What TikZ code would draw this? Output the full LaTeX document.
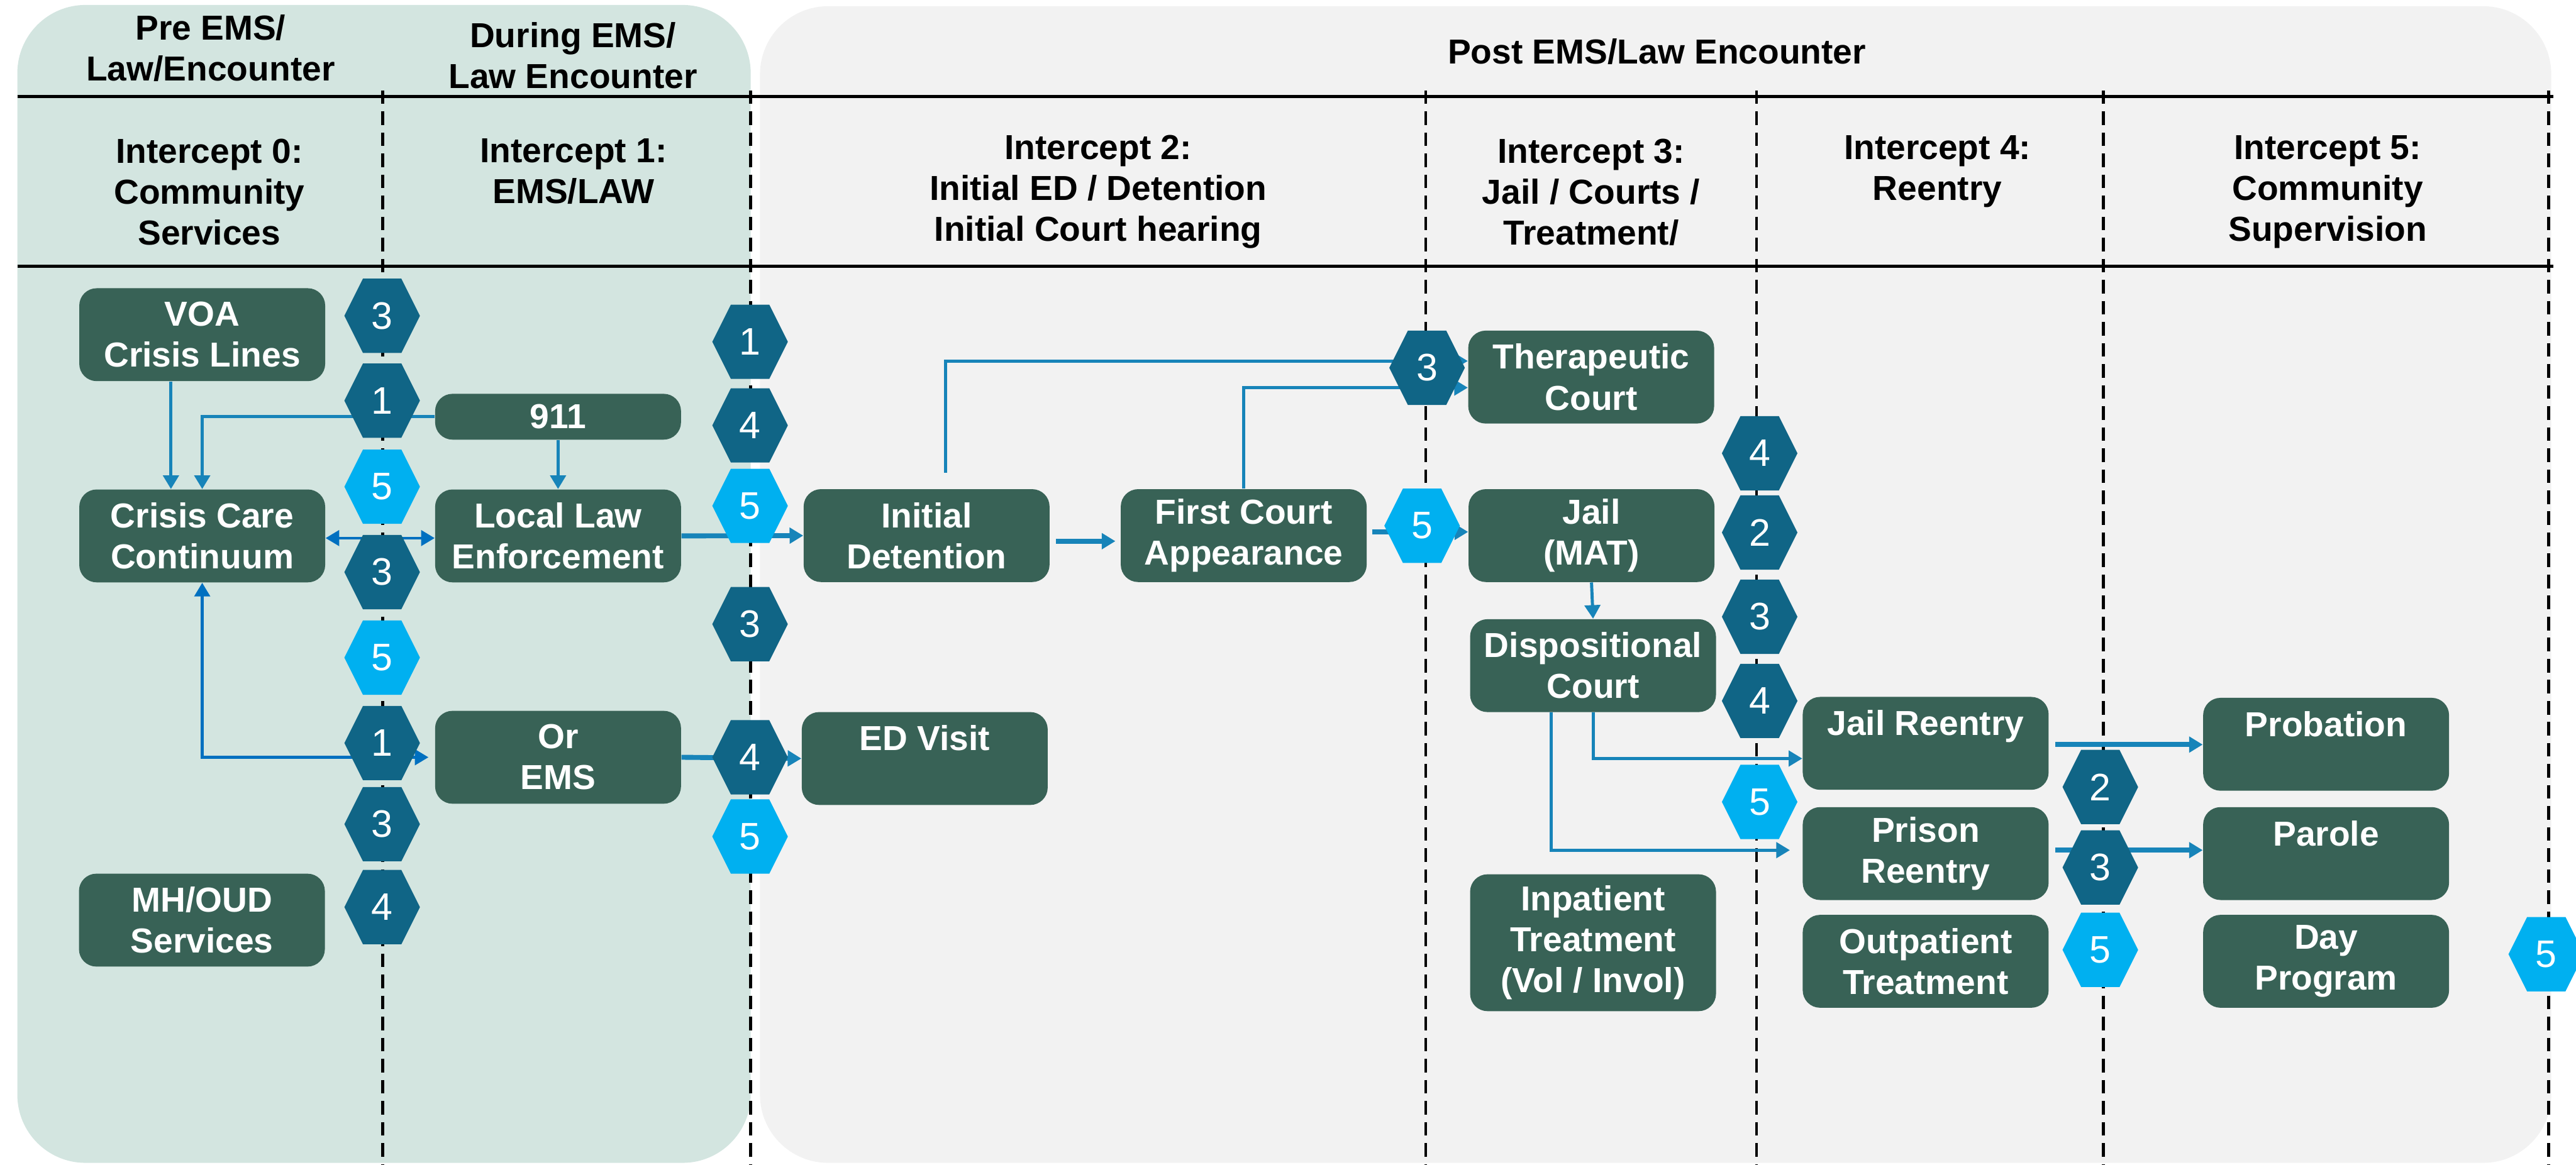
\documentclass[tikz,border=0pt]{standalone}
\usepackage{fontspec}
\setmainfont{Liberation Sans}
\usetikzlibrary{arrows.meta,calc}

\definecolor{panelteal}{HTML}{D3E5E0}
\definecolor{panelgray}{HTML}{F2F2F2}
\definecolor{stagegreen}{HTML}{386256}
\definecolor{markdark}{HTML}{106586}
\definecolor{marklight}{HTML}{00B0F0}
\definecolor{flowblue}{HTML}{1784B9}
\definecolor{deepblue}{HTML}{0070C0}

\newcommand{\stagefont}{\fontsize{15.93}{18.78}\selectfont\bfseries}
\newcommand{\markfont}{\fontsize{17.6}{18}\selectfont}

% hexagonal intercept marker: name, x, y, colour, digit
\newcommand{\interceptmark}[5]{%
  \fill[#4,shift={(#2,#3)}] (-0.61,0) -- (-0.31,0.60) -- (0.31,0.60) -- (0.61,0)
    -- (0.31,-0.60) -- (-0.31,-0.60) -- cycle;
  \node[marknum] (#1) at (#2,#3) {#5};
}

\tikzset{
  stagebox/.style={rectangle, rounded corners=0.28cm, fill=stagegreen, text=white,
    font=\stagefont, align=center, minimum width=3.97cm, minimum height=1.5cm, inner sep=0pt},
  bandtext/.style={font=\stagefont, align=center, text=black, inner sep=0pt},
  marknum/.style={text=white, font=\markfont, inner sep=0pt},
  flow/.style={draw=flowblue, line width=0.05cm, ->},
  mainflow/.style={flow, line width=0.08cm},
  twoway/.style={draw=deepblue, line width=0.045cm, <->},
  divider/.style={draw=black, line width=0.045cm, dash pattern=on 0.22cm off 0.12cm},
  bandrule/.style={draw=black, line width=0.045cm},
}

\begin{document}
\begin{tikzpicture}[>={Triangle[length=0.22cm,width=0.25cm]}]
\useasboundingbox (0,0) rectangle (41.59,-18.81);

% background panels
\fill[panelteal, rounded corners=1.1cm] (0.28,-0.08) rectangle (12.12,-18.78);
\fill[panelgray, rounded corners=1.1cm] (12.27,-0.10) rectangle (41.19,-18.78);

% header rules
\draw[bandrule] (0.28,-1.56) -- (41.22,-1.56);
\draw[bandrule] (0.28,-4.30) -- (41.22,-4.30);

% intercept dividers
\foreach \xx in {6.18,12.12,23.02,28.36,33.96,41.15}
  \draw[divider] (\xx,-1.46) -- (\xx,-18.81);

% headings
\node[bandtext] (pre) at (3.40,-0.78) {Pre EMS/\\Law/Encounter};
\node[bandtext] (during) at (9.25,-0.90) {During EMS/\\Law Encounter};
\node[bandtext] (post) at (26.75,-0.83) {Post EMS/Law Encounter};
\node[bandtext] (i0) at (3.38,-3.10) {Intercept 0:\\Community\\Services};
\node[bandtext] (i1) at (9.26,-2.77) {Intercept 1:\\EMS/LAW};
\node[bandtext] (i2) at (17.73,-3.10) {Intercept 2:\\Initial ED / Detention\\Initial Court hearing};
\node[bandtext] (i3) at (25.69,-3.10) {Intercept 3:\\Jail / Courts /\\Treatment/};
\node[bandtext] (i4) at (31.28,-2.77) {Intercept 4:\\Reentry};
\node[bandtext] (i5) at (37.58,-3.10) {Intercept 5:\\Community\\Supervision};

% service boxes
\node[stagebox] (voa) at (3.265,-5.405) {VOA\\Crisis Lines};
\node[stagebox] (crisis) at (3.265,-8.655) {Crisis Care\\Continuum};
\node[stagebox] (mhoud) at (3.26,-14.86) {MH/OUD\\Services};
\node[stagebox, minimum height=0.74cm] (call) at (9.01,-6.73) {911};
\node[stagebox] (law) at (9.01,-8.655) {Local Law\\Enforcement};
\node[stagebox] (ems) at (9.01,-12.23) {Or\\EMS};
\node[stagebox] (det) at (14.96,-8.65) {Initial\\Detention};
\node[stagebox] (edv) at (14.93,-12.25) {ED Visit\\~};
\node[stagebox] (fca) at (20.08,-8.65) {First Court\\Appearance};
\node[stagebox] (ther) at (25.69,-6.09) {Therapeutic\\Court};
\node[stagebox] (jail) at (25.695,-8.65) {Jail\\(MAT)};
\node[stagebox] (disp) at (25.72,-10.75) {Dispositional\\Court};
\node[stagebox, minimum height=2.21cm] (inpat) at (25.72,-15.225) {Inpatient\\Treatment\\(Vol / Invol)};
\node[stagebox] (jre) at (31.09,-12.005) {Jail Reentry\\~};
\node[stagebox] (pri) at (31.09,-13.785) {Prison\\Reentry};
\node[stagebox] (opt) at (31.09,-15.525) {Outpatient\\Treatment};
\node[stagebox] (prob) at (37.555,-12.02) {Probation\\~};
\node[stagebox] (parole) at (37.555,-13.785) {Parole\\~};
\node[stagebox] (day) at (37.555,-15.525) {Day\\Program};

% connectors
\draw[flow] ([xshift=-0.505cm]voa.south) -- ([xshift=-0.505cm]crisis.north);
\draw[flow] (call.west) -| (crisis.north);
\draw[flow] (call.south) -- (law.north);
\draw[twoway] ([yshift=-0.035cm]crisis.east) -- ([yshift=-0.035cm]law.west);
\draw[twoway, shorten >=0.1cm] (crisis.south) |- (ems.west);
\draw[mainflow] (law.east) -- (det.west);
\draw[mainflow] (ems.east) -- (edv.west);
\draw[mainflow, shorten <=0.1cm, shorten >=0.08cm] ([yshift=-0.09cm]det.east) -- ([yshift=-0.09cm]fca.west);
\draw[flow, shorten <=0.26cm] ([xshift=0.31cm]det.north) |- ([yshift=0.26cm]ther.west);
\draw[flow] (fca.north) |- ([yshift=-0.17cm]ther.west);
\draw[mainflow, shorten <=0.08cm] ([yshift=0.06cm]fca.east) -- ([yshift=0.06cm]jail.west);
\draw[flow] (jail.south) -- (disp.north);
\draw[flow] (disp.south) |- ([yshift=-0.245cm]jre.west);
\draw[flow, shorten >=0.2cm] ([xshift=-0.68cm]disp.south) |- ([yshift=0.055cm]pri.west);
\draw[mainflow, shorten <=0.1cm] ([yshift=-0.02cm]jre.east) -- ([yshift=-0.02cm]jre.east -| prob.west);
\draw[mainflow, shorten <=0.1cm] ([yshift=0.055cm]pri.east) -- ([yshift=0.055cm]parole.west);

% intercept markers
\interceptmark{a3}{6.17}{-5.10}{markdark}{3}
\interceptmark{a1}{6.17}{-6.47}{markdark}{1}
\interceptmark{a5}{6.17}{-7.86}{marklight}{5}
\interceptmark{a3b}{6.17}{-9.24}{markdark}{3}
\interceptmark{a5b}{6.17}{-10.62}{marklight}{5}
\interceptmark{a1b}{6.17}{-12.00}{markdark}{1}
\interceptmark{a3c}{6.17}{-13.31}{markdark}{3}
\interceptmark{a4}{6.17}{-14.65}{markdark}{4}

\interceptmark{b1}{12.11}{-5.52}{markdark}{1}
\interceptmark{b4}{12.11}{-6.87}{markdark}{4}
\interceptmark{b5}{12.11}{-8.17}{marklight}{5}
\interceptmark{b3}{12.11}{-10.08}{markdark}{3}
\interceptmark{b4b}{12.11}{-12.23}{markdark}{4}
\interceptmark{b5b}{12.11}{-13.51}{marklight}{5}

\interceptmark{c3}{23.04}{-5.94}{markdark}{3}
\interceptmark{c5}{22.96}{-8.49}{marklight}{5}

\interceptmark{d4}{28.41}{-7.32}{markdark}{4}
\interceptmark{d2}{28.41}{-8.60}{markdark}{2}
\interceptmark{d3}{28.41}{-9.96}{markdark}{3}
\interceptmark{d4b}{28.41}{-11.32}{markdark}{4}
\interceptmark{d5}{28.41}{-12.95}{marklight}{5}

\interceptmark{e2}{33.91}{-12.71}{markdark}{2}
\interceptmark{e3}{33.91}{-14.01}{markdark}{3}
\interceptmark{e5}{33.91}{-15.34}{marklight}{5}

\interceptmark{f5}{41.11}{-15.41}{marklight}{5}
\end{tikzpicture}
\end{document}
